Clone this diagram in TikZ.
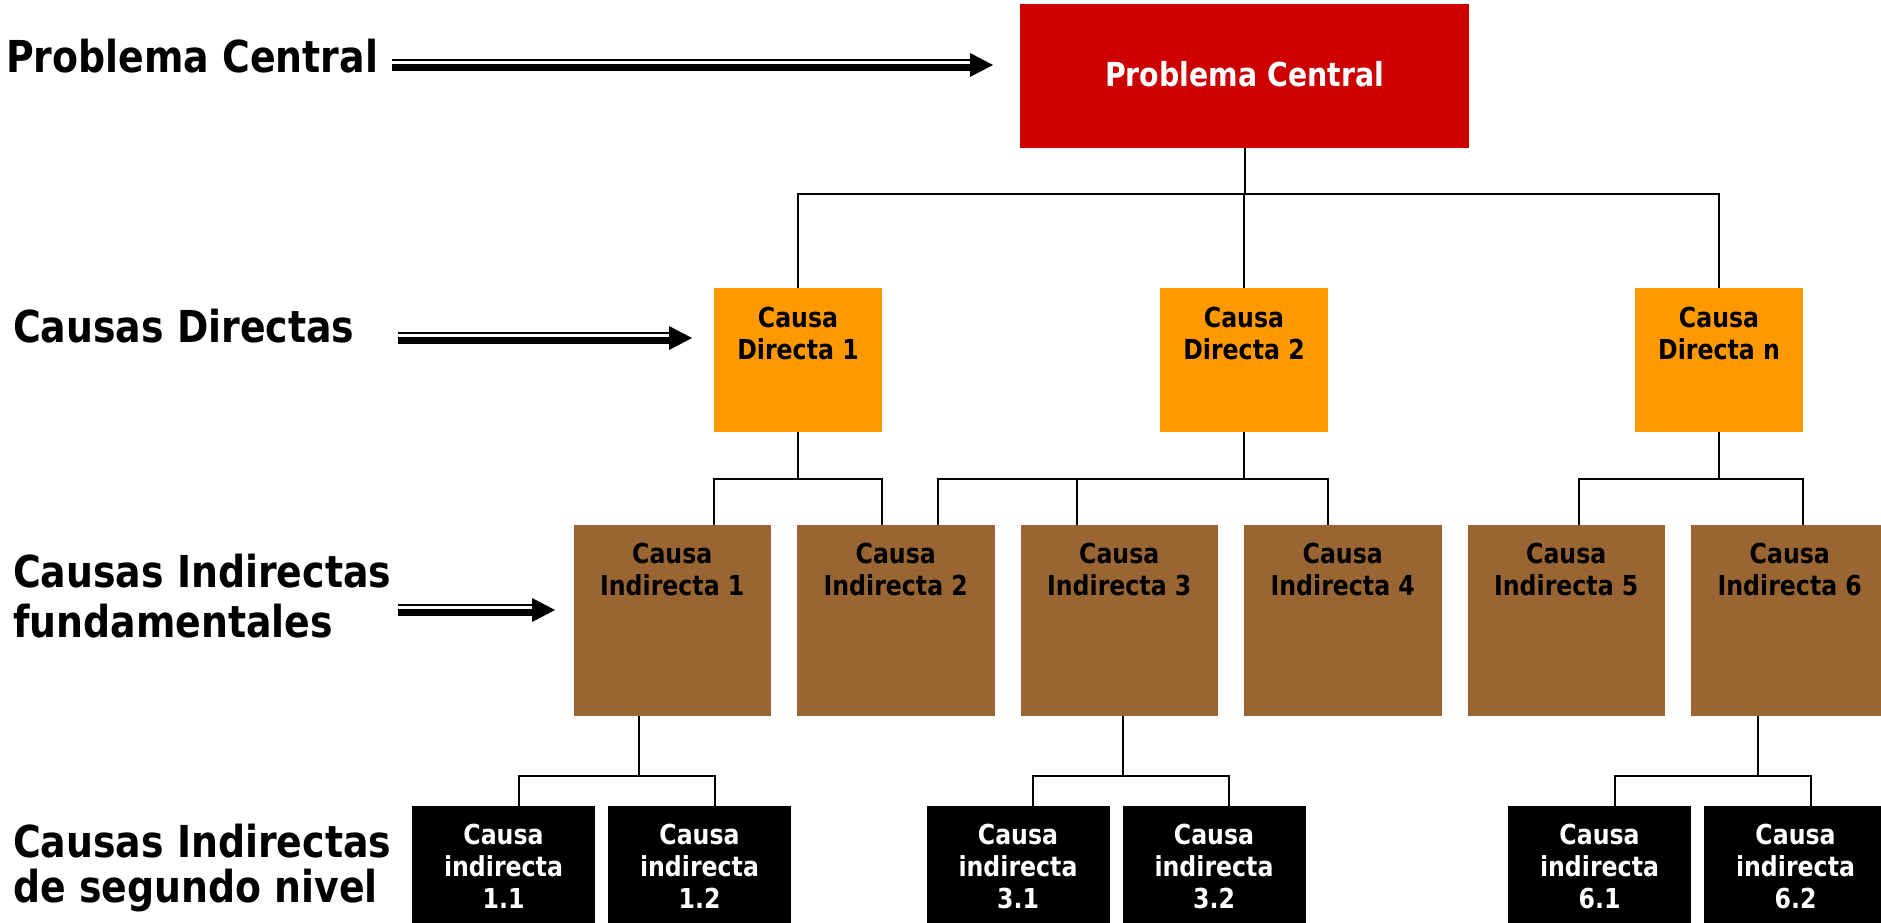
\documentclass[tikz,border=0pt]{standalone}
\usepackage{fontspec}
\newfontfamily\tah{DejaVu Sans}[FakeStretch=0.86]
\usetikzlibrary{calc}
\definecolor{pcred}{HTML}{CC0000}
\definecolor{dorange}{HTML}{FF9900}
\definecolor{ibrown}{HTML}{996633}
\newcommand\boxfont{\tah\bfseries\fontsize{27.5}{32}\selectfont}
\newcommand\pcfont{\tah\bfseries\fontsize{33}{40}\selectfont}
\newcommand\lblfont{\tah\bfseries\fontsize{44}{50}\selectfont}
\newcommand\lblfontb{\tah\bfseries\fontsize{44}{45}\selectfont}
\newcommand\dblarrow[2]{%
  \draw[line width=2.5pt] ($(#1)+(0,-5)$) -- ($(#2)+(-23,-5)$);
  \draw[line width=7.5pt] ($(#1)+(0,2.5)$) -- ($(#2)+(-23,2.5)$);
  \fill ($(#2)+(-23,-12)$) -- (#2) -- ($(#2)+(-23,12)$) -- cycle;}
\tikzset{
  box/.style={rectangle, inner sep=0pt, outer sep=0pt, anchor=north west, draw=none},
  pcbox/.style={box, fill=pcred, minimum width=449pt, minimum height=144pt},
  dbox/.style={box, fill=dorange, minimum width=168pt, minimum height=144pt},
  ibox/.style={box, fill=ibrown, minimum width=197.5pt, minimum height=191pt},
  sbox/.style={box, fill=black, minimum width=183pt, minimum height=130pt},
  boxtext/.style={anchor=base, inner sep=0pt, font=\boxfont, text=black},
  whitetext/.style={boxtext, text=white},
  lbl/.style={anchor=base west, inner sep=0pt, font=\lblfont, text=black},
  conn/.style={line width=2pt, draw=black},
}
\newcommand\two[2]{\begin{tabular}[t]{@{}c@{}}#1\\#2\end{tabular}}
\newcommand\three[3]{\begin{tabular}[t]{@{}c@{}}#1\\#2\\#3\end{tabular}}
\begin{document}
\begin{tikzpicture}[x=1pt,y=-1pt]
\useasboundingbox (0,0) rectangle (1881,922);
\clip (0,0) rectangle (1881,922);
\fill[white] (0,0) rectangle (1881,922);

% left labels
\node[lbl] (l1) at (6,72) {Problema Central};
\node[lbl] (l2) at (13,342) {Causas Directas};
\node[lbl] (l3a) at (13,587) {Causas Indirectas};
\node[lbl] (l3b) at (13,637) {fundamentales};
\node[lbl] (l4a) at (13,857) {Causas Indirectas};
\node[lbl] (l4b) at (13,902) {de segundo nivel};

% central problem
\node[pcbox] (pc) at (1020,4) {};
\node[whitetext, font=\pcfont] (pct) at ($(pc.north)+(0,82)$) {Problema Central};

% direct causes
\node[dbox] (d1) at (714,288) {};
\node[dbox] (d2) at (1160,288) {};
\node[dbox] (dn) at (1635,288) {};
\node[boxtext] (d1t) at ($(d1.north)+(0,39)$) {\two{Causa}{Directa 1}};
\node[boxtext] (d2t) at ($(d2.north)+(0,39)$) {\two{Causa}{Directa 2}};
\node[boxtext] (dnt) at ($(dn.north)+(0,39)$) {\two{Causa}{Directa n}};

% indirect causes
\node[ibox] (i1) at (573.5,525) {};
\node[ibox] (i2) at (797,525) {};
\node[ibox] (i3) at (1020.5,525) {};
\node[ibox] (i4) at (1244,525) {};
\node[ibox] (i5) at (1467.5,525) {};
\node[ibox] (i6) at (1691,525) {};
\node[boxtext] (i1t) at ($(i1.north)+(0,38)$) {\two{Causa}{Indirecta 1}};
\node[boxtext] (i2t) at ($(i2.north)+(0,38)$) {\two{Causa}{Indirecta 2}};
\node[boxtext] (i3t) at ($(i3.north)+(0,38)$) {\two{Causa}{Indirecta 3}};
\node[boxtext] (i4t) at ($(i4.north)+(0,38)$) {\two{Causa}{Indirecta 4}};
\node[boxtext] (i5t) at ($(i5.north)+(0,38)$) {\two{Causa}{Indirecta 5}};
\node[boxtext] (i6t) at ($(i6.north)+(0,38)$) {\two{Causa}{Indirecta 6}};

% second level
\node[sbox] (s11) at (412,806) {};
\node[sbox] (s12) at (608,806) {};
\node[sbox] (s31) at (926.5,806) {};
\node[sbox] (s32) at (1122.5,806) {};
\node[sbox] (s61) at (1508,806) {};
\node[sbox] (s62) at (1704,806) {};
\node[whitetext] (s11t) at ($(s11.north)+(0,38)$) {\three{Causa}{indirecta}{1.1}};
\node[whitetext] (s12t) at ($(s12.north)+(0,38)$) {\three{Causa}{indirecta}{1.2}};
\node[whitetext] (s31t) at ($(s31.north)+(0,38)$) {\three{Causa}{indirecta}{3.1}};
\node[whitetext] (s32t) at ($(s32.north)+(0,38)$) {\three{Causa}{indirecta}{3.2}};
\node[whitetext] (s61t) at ($(s61.north)+(0,38)$) {\three{Causa}{indirecta}{6.1}};
\node[whitetext] (s62t) at ($(s62.north)+(0,38)$) {\three{Causa}{indirecta}{6.2}};

% connectors
\coordinate (b0) at (0,194);
\coordinate (b1) at (0,479);
\coordinate (b2) at (0,776);
\draw[conn] (pc.south) -- (pc.south |- b0);
\draw[conn] (d1.north) |- (dn.north |- b0) -- (dn.north);
\draw[conn] (d2.north) -- (d2.north |- b0);

\draw[conn] (d1.south) -- (d1.south |- b1);
\draw[conn] (714,0 |- i1.north) |- (882,0 |- b1) -- (882,0 |- i2.north);
\draw[conn] (d2.south) -- (d2.south |- b1);
\draw[conn] (938,0 |- i2.north) |- (1328,0 |- b1) -- (1328,0 |- i4.north);
\draw[conn] (1077,0 |- i3.north) -- (1077,0 |- b1);
\draw[conn] (dn.south) -- (dn.south |- b1);
\draw[conn] (1579,0 |- i5.north) |- (1803,0 |- b1) -- (1803,0 |- i6.north);

\draw[conn] (639,0 |- i1.south) -- (639,0 |- b2);
\draw[conn] (519,0 |- s11.north) |- (715,0 |- b2) -- (715,0 |- s12.north);
\draw[conn] (1123,0 |- i3.south) -- (1123,0 |- b2);
\draw[conn] (1033,0 |- s31.north) |- (1229,0 |- b2) -- (1229,0 |- s32.north);
\draw[conn] (1758,0 |- i6.south) -- (1758,0 |- b2);
\draw[conn] (1615,0 |- s61.north) |- (1811,0 |- b2) -- (1811,0 |- s62.north);

% level arrows
\coordinate (a1s) at (392,65);
\coordinate (a1t) at (993,65);
\coordinate (a2s) at (398,338);
\coordinate (a2t) at (692,338);
\coordinate (a3s) at (398,610);
\coordinate (a3t) at (555,610);
\dblarrow{a1s}{a1t}
\dblarrow{a2s}{a2t}
\dblarrow{a3s}{a3t}
\end{tikzpicture}
\end{document}
